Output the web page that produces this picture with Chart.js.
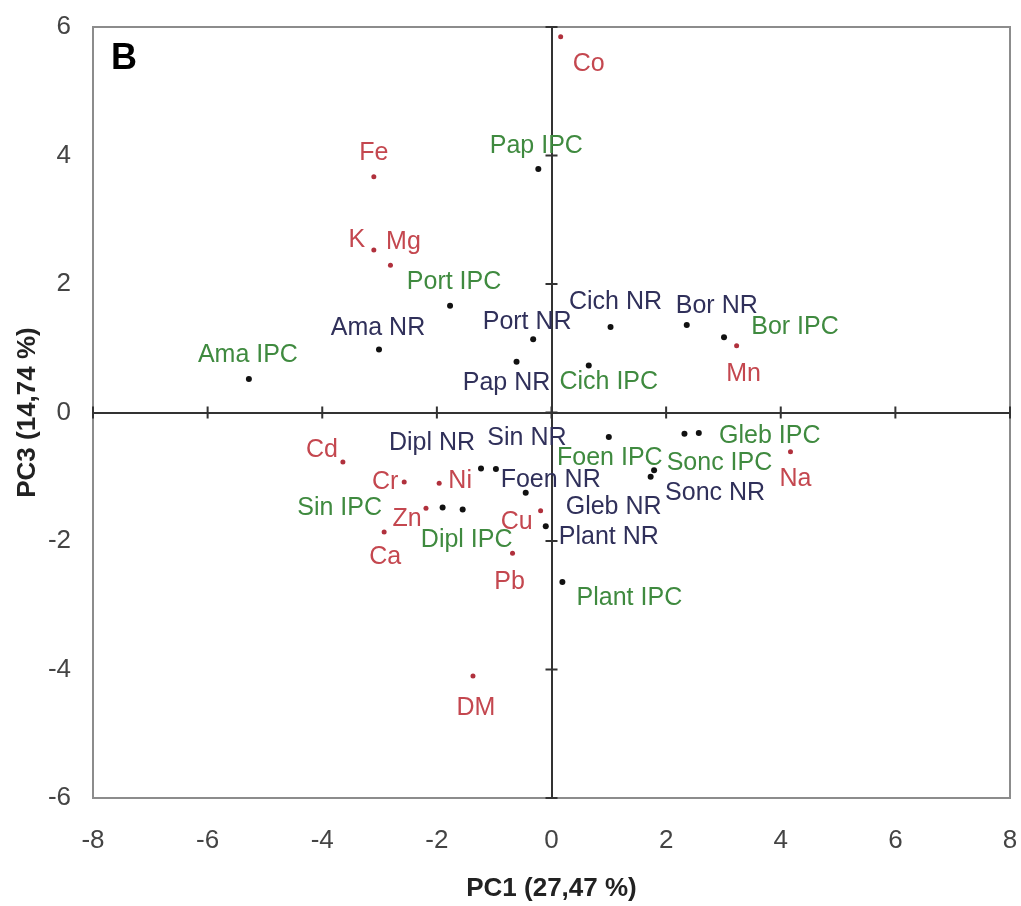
<!DOCTYPE html>
<html>
<head>
<meta charset="utf-8">
<script src="https://cdn.jsdelivr.net/npm/chart.js@4"></script>
<style>
  html, body { margin: 0; padding: 0; background: #fff; }
  #chart { display: block; }
</style>
</head>
<body>
<canvas id="chart" width="1021" height="906"></canvas>
<script>
'use strict';

// ─── Data ────────────────────────────────────────────────────────────────────

const X_TICKS = [-8, -6, -4, -2, 0, 2, 4, 6, 8];
const Y_TICKS = [-6, -4, -2, 0, 2, 4, 6];

// Loadings: elements
const ELEMENT_NAMES = ['Co', 'Fe', 'K', 'Mg', 'Mn', 'Cd', 'Cr', 'Ni', 'Zn', 'Ca', 'Cu', 'Pb', 'DM', 'Na'];
const ELEMENT_PC1 = [0.16, -3.10, -3.10, -2.81, 3.23, -3.64, -2.57, -1.96, -2.19, -2.92, -0.19, -0.68, -1.37, 4.17];
const ELEMENT_PC3 = [5.85, 3.67, 2.53, 2.29, 1.04, -0.77, -1.08, -1.10, -1.49, -1.86, -1.53, -2.19, -4.10, -0.61];

// Scores: IPC samples
const IPC_NAMES = ['Pap IPC', 'Port IPC', 'Ama IPC', 'Bor IPC', 'Cich IPC', 'Sin IPC', 'Dipl IPC', 'Foen IPC', 'Gleb IPC', 'Sonc IPC', 'Plant IPC'];
const IPC_PC1 = [-0.23, -1.77, -5.28, 3.01, 0.65, -1.90, -1.55, 1.00, 2.57, 2.32, 0.19];
const IPC_PC3 = [3.79, 1.66, 0.52, 1.17, 0.73, -1.48, -1.51, -0.38, -0.32, -0.33, -2.64];

// Scores: NR samples
const NR_NAMES = ['Ama NR', 'Port NR', 'Pap NR', 'Cich NR', 'Bor NR', 'Dipl NR', 'Sin NR', 'Foen NR', 'Gleb NR', 'Sonc NR', 'Plant NR'];
const NR_PC1 = [-3.01, -0.32, -0.61, 1.03, 2.36, -1.23, -0.97, -0.45, 1.73, 1.79, -0.10];
const NR_PC3 = [0.98, 1.14, 0.79, 1.33, 1.36, -0.87, -0.88, -1.25, -1.00, -0.90, -1.77];

// ─── Label placement (pixel offsets from each point) ─────────────────────────

const LABEL_OFFSETS = {
  'Co': [28, 27], 'Fe': [0, -24], 'K': [-17, -10], 'Mg': [13, -23], 'Mn': [7, 28],
  'Cd': [-21, -12], 'Cr': [-19, 0], 'Ni': [21, -2], 'Zn': [-19, 11], 'Ca': [1, 25],
  'Cu': [-24, 11], 'Pb': [-3, 29], 'DM': [3, 32], 'Na': [5, 27],
  'Pap IPC': [-2, -23], 'Port IPC': [4, -24], 'Ama IPC': [-1, -24], 'Bor IPC': [71, -10],
  'Cich IPC': [20, 17], 'Sin IPC': [-103, 1], 'Dipl IPC': [4, 31], 'Foen IPC': [1, 21],
  'Gleb IPC': [71, 3], 'Sonc IPC': [35, 29], 'Plant IPC': [67, 16],
  'Ama NR': [-1, -21], 'Port NR': [-6, -17], 'Pap NR': [-10, 21], 'Cich NR': [5, -25],
  'Bor NR': [30, -19], 'Dipl NR': [-49, -25], 'Sin NR': [31, -31], 'Foen NR': [25, -13],
  'Gleb NR': [-37, 30], 'Sonc NR': [61, 23], 'Plant NR': [63, 11],
};

const COLORS = {
  element: '#c4474f',
  elementDot: '#b0303c',
  ipc: '#3f8a3f',
  nr: '#30305a',
  dot: '#111111',
  axis: '#333333',
  frame: '#8c8c8c',
  tick: '#444444',
};

const FONT = "'Liberation Sans', Arial, sans-serif";
const CLEAR = 'rgba(0,0,0,0)';

function toPoints(xs, ys) {
  return xs.map((x, i) => ({ x, y: ys[i] }));
}

// ─── Plugins ─────────────────────────────────────────────────────────────────

const frameAndCrossAxes = {
  id: 'frameAndCrossAxes',
  beforeDatasetsDraw(chart) {
    const { ctx, chartArea: a, scales: { x, y } } = chart;
    const x0 = x.getPixelForValue(0);
    const y0 = y.getPixelForValue(0);
    ctx.save();
    ctx.strokeStyle = COLORS.frame;
    ctx.lineWidth = 2;
    ctx.strokeRect(a.left, a.top, a.width, a.height);

    ctx.strokeStyle = COLORS.axis;
    ctx.lineWidth = 2;
    ctx.beginPath();
    X_TICKS.forEach((v) => {
      const px = x.getPixelForValue(v);
      ctx.moveTo(px, y0 - 6);
      ctx.lineTo(px, y0 + 6);
    });
    Y_TICKS.forEach((v) => {
      const py = y.getPixelForValue(v);
      ctx.moveTo(x0 - 6, py);
      ctx.lineTo(x0 + 6, py);
    });
    ctx.stroke();

    // panel letter
    ctx.fillStyle = '#000';
    ctx.font = `bold 36px ${FONT}`;
    ctx.textBaseline = 'alphabetic';
    ctx.textAlign = 'left';
    ctx.fillText('B', a.left + 18, a.top + 42);
    ctx.restore();
  },
};

const pointLabels = {
  id: 'pointLabels',
  afterDatasetsDraw(chart) {
    const { ctx } = chart;
    ctx.save();
    ctx.font = `25px ${FONT}`;
    ctx.textAlign = 'center';
    ctx.textBaseline = 'middle';
    chart.data.datasets.forEach((ds, di) => {
      const meta = chart.getDatasetMeta(di);
      ctx.fillStyle = ds.labelColor;
      meta.data.forEach((pt, i) => {
        const name = ds.names[i];
        const [dx, dy] = LABEL_OFFSETS[name] || [0, -20];
        ctx.fillText(name, pt.x + dx, pt.y + dy);
      });
    });
    ctx.restore();
  },
};

// ─── Chart ───────────────────────────────────────────────────────────────────

const zeroLine = (c) => (c.tick && c.tick.value === 0 ? COLORS.axis : CLEAR);

new Chart(document.getElementById('chart'), {
  type: 'scatter',
  data: {
    datasets: [
      {
        label: 'Elements',
        names: ELEMENT_NAMES,
        labelColor: COLORS.element,
        data: toPoints(ELEMENT_PC1, ELEMENT_PC3),
        backgroundColor: COLORS.elementDot,
        borderWidth: 0,
        pointRadius: 2.5,
      },
      {
        label: 'IPC',
        names: IPC_NAMES,
        labelColor: COLORS.ipc,
        data: toPoints(IPC_PC1, IPC_PC3),
        backgroundColor: COLORS.dot,
        borderWidth: 0,
        pointRadius: 3,
      },
      {
        label: 'NR',
        names: NR_NAMES,
        labelColor: COLORS.nr,
        data: toPoints(NR_PC1, NR_PC3),
        backgroundColor: COLORS.dot,
        borderWidth: 0,
        pointRadius: 3,
      },
    ],
  },
  options: {
    responsive: false,
    devicePixelRatio: 1,
    animation: false,
    layout: { padding: { top: 27, right: 11, left: 0, bottom: 0 } },
    plugins: {
      legend: { display: false },
      tooltip: { enabled: false },
    },
    scales: {
      x: {
        type: 'linear',
        min: -8,
        max: 8,
        afterBuildTicks: (s) => { s.ticks = X_TICKS.map((value) => ({ value })); },
        afterFit: (s) => { s.height = 108; },
        ticks: { color: COLORS.tick, font: { family: FONT, size: 26 }, padding: 0 },
        grid: { color: zeroLine, lineWidth: 2, drawTicks: true, tickLength: 27, tickColor: CLEAR },
        border: { display: false },
        title: {
          display: true,
          text: 'PC1 (27,47 %)',
          color: '#222',
          font: { family: FONT, size: 26, weight: 'bold' },
          padding: { top: 0, bottom: 2 },
        },
      },
      y: {
        type: 'linear',
        min: -6,
        max: 6,
        afterBuildTicks: (s) => { s.ticks = Y_TICKS.map((value) => ({ value })); },
        afterFit: (s) => { s.width = 93; },
        ticks: { color: COLORS.tick, font: { family: FONT, size: 26 }, padding: 0 },
        grid: { color: zeroLine, lineWidth: 2, drawTicks: true, tickLength: 22, tickColor: CLEAR },
        border: { display: false },
        title: {
          display: true,
          text: 'PC3 (14,74 %)',
          color: '#222',
          font: { family: FONT, size: 26, weight: 'bold' },
          padding: { top: 12, bottom: 0 },
        },
      },
    },
  },
  plugins: [frameAndCrossAxes, pointLabels],
});
</script>
</body>
</html>
